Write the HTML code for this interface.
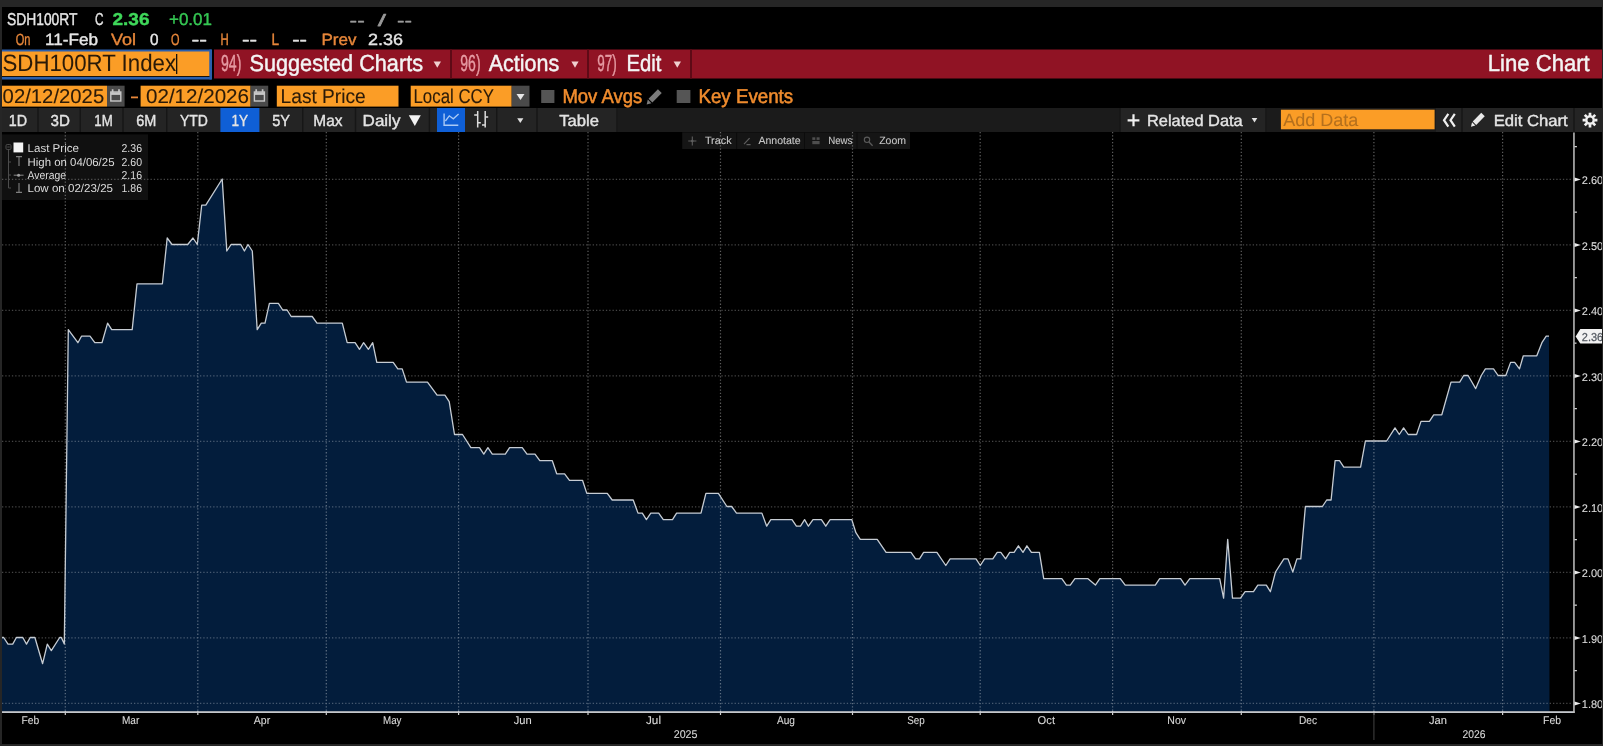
<!DOCTYPE html>
<html><head><meta charset="utf-8"><title>SDH100RT Index - Line Chart</title>
<style>html,body{margin:0;padding:0;background:#000;overflow:hidden}svg{display:block}text{font-family:"Liberation Sans",sans-serif;white-space:pre}</style>
</head><body>
<svg width="1603" height="746" viewBox="0 0 1603 746" text-rendering="geometricPrecision"><rect x="0" y="0" width="1603" height="746" fill="#000" />
<text x="7" y="25.4" font-family="Liberation Sans" font-size="17.14" font-weight="normal" fill="#e6e6e6" textLength="70.5" lengthAdjust="spacingAndGlyphs"  stroke="#e6e6e6" stroke-width="0.4" stroke-linejoin="round">SDH100RT</text>
<text x="95" y="25.4" font-family="Liberation Sans" font-size="17.14" font-weight="normal" fill="#e6e6e6" textLength="8.5" lengthAdjust="spacingAndGlyphs"  stroke="#e6e6e6" stroke-width="0.4" stroke-linejoin="round">C</text>
<text x="112.5" y="25.4" font-family="Liberation Sans" font-size="17.14" font-weight="bold" fill="#3fd85a" textLength="37.0" lengthAdjust="spacingAndGlyphs"  stroke="#3fd85a" stroke-width="0.4" stroke-linejoin="round">2.36</text>
<text x="169" y="25.4" font-family="Liberation Sans" font-size="17.14" font-weight="normal" fill="#35c653" textLength="43" lengthAdjust="spacingAndGlyphs"  stroke="#35c653" stroke-width="0.4" stroke-linejoin="round">+0.01</text>
<text x="349.6" y="25.5" font-family="Liberation Sans" font-size="16.57" font-weight="normal" fill="#9a9a9a" textLength="15.1" lengthAdjust="spacingAndGlyphs"  stroke="#9a9a9a" stroke-width="0.4" stroke-linejoin="round">--</text>
<text x="377.7" y="25.5" font-family="Liberation Sans" font-size="16.57" font-weight="normal" fill="#9a9a9a" textLength="8.3" lengthAdjust="spacingAndGlyphs"  stroke="#9a9a9a" stroke-width="0.4" stroke-linejoin="round">/</text>
<text x="397" y="25.5" font-family="Liberation Sans" font-size="16.57" font-weight="normal" fill="#9a9a9a" textLength="15" lengthAdjust="spacingAndGlyphs"  stroke="#9a9a9a" stroke-width="0.4" stroke-linejoin="round">--</text>
<text x="15.8" y="45.4" font-family="Liberation Sans" font-size="16.29" font-weight="normal" fill="#e8873a" textLength="14.7" lengthAdjust="spacingAndGlyphs"  stroke="#e8873a" stroke-width="0.4" stroke-linejoin="round">On</text>
<text x="45" y="45.4" font-family="Liberation Sans" font-size="16.29" font-weight="normal" fill="#e6e6e6" textLength="53" lengthAdjust="spacingAndGlyphs"  stroke="#e6e6e6" stroke-width="0.4" stroke-linejoin="round">11-Feb</text>
<text x="111" y="45.4" font-family="Liberation Sans" font-size="16.29" font-weight="normal" fill="#e8873a" textLength="25" lengthAdjust="spacingAndGlyphs"  stroke="#e8873a" stroke-width="0.4" stroke-linejoin="round">Vol</text>
<text x="150" y="45.4" font-family="Liberation Sans" font-size="16.29" font-weight="normal" fill="#e6e6e6" textLength="8.5" lengthAdjust="spacingAndGlyphs"  stroke="#e6e6e6" stroke-width="0.4" stroke-linejoin="round">0</text>
<text x="171" y="45.4" font-family="Liberation Sans" font-size="16.29" font-weight="normal" fill="#e8873a" textLength="8.5" lengthAdjust="spacingAndGlyphs"  stroke="#e8873a" stroke-width="0.4" stroke-linejoin="round">O</text>
<text x="191.5" y="45.4" font-family="Liberation Sans" font-size="16.29" font-weight="normal" fill="#e6e6e6" textLength="15.5" lengthAdjust="spacingAndGlyphs"  stroke="#e6e6e6" stroke-width="0.4" stroke-linejoin="round">--</text>
<text x="220.6" y="45.4" font-family="Liberation Sans" font-size="16.29" font-weight="normal" fill="#e8873a" textLength="8.2" lengthAdjust="spacingAndGlyphs"  stroke="#e8873a" stroke-width="0.4" stroke-linejoin="round">H</text>
<text x="241.9" y="45.4" font-family="Liberation Sans" font-size="16.29" font-weight="normal" fill="#e6e6e6" textLength="15.1" lengthAdjust="spacingAndGlyphs"  stroke="#e6e6e6" stroke-width="0.4" stroke-linejoin="round">--</text>
<text x="271.4" y="45.4" font-family="Liberation Sans" font-size="16.29" font-weight="normal" fill="#e8873a" textLength="7.6" lengthAdjust="spacingAndGlyphs"  stroke="#e8873a" stroke-width="0.4" stroke-linejoin="round">L</text>
<text x="292.2" y="45.4" font-family="Liberation Sans" font-size="16.29" font-weight="normal" fill="#e6e6e6" textLength="14.8" lengthAdjust="spacingAndGlyphs"  stroke="#e6e6e6" stroke-width="0.4" stroke-linejoin="round">--</text>
<text x="321.5" y="45.4" font-family="Liberation Sans" font-size="16.29" font-weight="normal" fill="#e8873a" textLength="35.0" lengthAdjust="spacingAndGlyphs"  stroke="#e8873a" stroke-width="0.4" stroke-linejoin="round">Prev</text>
<text x="368" y="45.4" font-family="Liberation Sans" font-size="16.29" font-weight="normal" fill="#e6e6e6" textLength="35" lengthAdjust="spacingAndGlyphs"  stroke="#e6e6e6" stroke-width="0.4" stroke-linejoin="round">2.36</text>
<rect x="214" y="49.5" width="1388" height="29" fill="#901324" />
<rect x="450" y="49.5" width="2" height="29" fill="#5e0a16" />
<rect x="587" y="49.5" width="2" height="29" fill="#5e0a16" />
<rect x="690" y="49.5" width="2" height="29" fill="#5e0a16" />
<rect x="2" y="49.5" width="210" height="30" fill="#2a5fae" />
<rect x="2" y="51.5" width="207.5" height="24.5" fill="#fb9d26" />
<rect x="209.5" y="49.5" width="2" height="30" fill="#2a5fae" />
<rect x="2" y="76" width="207.5" height="1" fill="#1a1208" />
<text x="2.5" y="71.3" font-family="Liberation Sans" font-size="23.71" font-weight="normal" fill="#2a1a08" textLength="173.5" lengthAdjust="spacingAndGlyphs"  stroke="#2a1a08" stroke-width="0.05" stroke-linejoin="round">SDH100RT Index</text>
<rect x="176" y="54" width="1.3" height="20" fill="#1a1208" />
<text x="221" y="71" font-family="Liberation Sans" font-size="23.14" font-weight="normal" fill="#e59aa2" textLength="20.4" lengthAdjust="spacingAndGlyphs"  stroke="#e59aa2" stroke-width="0.45" stroke-linejoin="round">94)</text>
<text x="249.5" y="71" font-family="Liberation Sans" font-size="23.14" font-weight="normal" fill="#f4f4f4" textLength="173.5" lengthAdjust="spacingAndGlyphs"  stroke="#f4f4f4" stroke-width="0.45" stroke-linejoin="round">Suggested Charts</text>
<text x="460.3" y="71" font-family="Liberation Sans" font-size="23.14" font-weight="normal" fill="#e59aa2" textLength="20.3" lengthAdjust="spacingAndGlyphs"  stroke="#e59aa2" stroke-width="0.45" stroke-linejoin="round">96)</text>
<text x="488.7" y="71" font-family="Liberation Sans" font-size="23.14" font-weight="normal" fill="#f4f4f4" textLength="70.5" lengthAdjust="spacingAndGlyphs"  stroke="#f4f4f4" stroke-width="0.45" stroke-linejoin="round">Actions</text>
<text x="597.3" y="71" font-family="Liberation Sans" font-size="23.14" font-weight="normal" fill="#e59aa2" textLength="19.5" lengthAdjust="spacingAndGlyphs"  stroke="#e59aa2" stroke-width="0.45" stroke-linejoin="round">97)</text>
<text x="626.5" y="71" font-family="Liberation Sans" font-size="23.14" font-weight="normal" fill="#f4f4f4" textLength="34.9" lengthAdjust="spacingAndGlyphs"  stroke="#f4f4f4" stroke-width="0.45" stroke-linejoin="round">Edit</text>
<path d="M433.6 61.5H441L437.3 67.7Z" fill="#f0d0d0"/>
<path d="M571.4 61.5H578.6L575.0 67.7Z" fill="#f0d0d0"/>
<path d="M673.6 61.5H681L677.3 67.7Z" fill="#f0d0d0"/>
<text x="1487.8" y="70.6" font-family="Liberation Sans" font-size="23.14" font-weight="normal" fill="#f4f4f4" textLength="101.9" lengthAdjust="spacingAndGlyphs"  stroke="#f4f4f4" stroke-width="0.45" stroke-linejoin="round">Line Chart</text>
<rect x="2" y="85.7" width="105" height="20.9" fill="#fb9d26" />
<rect x="107" y="85.7" width="17.6" height="20.9" fill="#4a4a4a" />
<rect x="140.6" y="85.7" width="110" height="20.9" fill="#fb9d26" />
<rect x="250.6" y="85.7" width="17.6" height="20.9" fill="#4a4a4a" />
<rect x="276.8" y="85.7" width="121.7" height="20.9" fill="#fb9d26" />
<rect x="410.7" y="85.7" width="101" height="20.9" fill="#fb9d26" />
<rect x="511.7" y="85.7" width="17.8" height="20.9" fill="#4a4a4a" />
<text x="2.6" y="103" font-family="Liberation Sans" font-size="20.0" font-weight="normal" fill="#2a1a08" textLength="101.6" lengthAdjust="spacingAndGlyphs"  stroke="#2a1a08" stroke-width="0.1" stroke-linejoin="round">02/12/2025</text>
<text x="146" y="103" font-family="Liberation Sans" font-size="20.0" font-weight="normal" fill="#2a1a08" textLength="103" lengthAdjust="spacingAndGlyphs"  stroke="#2a1a08" stroke-width="0.1" stroke-linejoin="round">02/12/2026</text>
<rect x="131" y="96.5" width="7" height="1.8" fill="#e8873a" />
<text x="280.6" y="103" font-family="Liberation Sans" font-size="20.0" font-weight="normal" fill="#2a1a08" textLength="85.1" lengthAdjust="spacingAndGlyphs"  stroke="#2a1a08" stroke-width="0.1" stroke-linejoin="round">Last Price</text>
<text x="413.5" y="103" font-family="Liberation Sans" font-size="20.0" font-weight="normal" fill="#2a1a08" textLength="80.5" lengthAdjust="spacingAndGlyphs"  stroke="#2a1a08" stroke-width="0.1" stroke-linejoin="round">Local CCY</text>
<path d="M516.5 94H524.5L520.5 100Z" fill="#e8e8e8"/>
<g stroke="#c8c8c8" fill="none" stroke-width="1.4"><rect x="110.8" y="92" width="10" height="9"/><path d="M110.8 93.6H120.8" stroke-width="2.6"/><path d="M112.6 89.3V92.5M119.0 89.3V92.5" stroke-width="1.7"/></g>
<g stroke="#c8c8c8" fill="none" stroke-width="1.4"><rect x="254.39999999999998" y="92" width="10" height="9"/><path d="M254.39999999999998 93.6H264.4" stroke-width="2.6"/><path d="M256.2 89.3V92.5M262.59999999999997 89.3V92.5" stroke-width="1.7"/></g>
<rect x="541.2" y="90" width="13.2" height="13" fill="#555" />
<rect x="676.7" y="90" width="13.7" height="13" fill="#555" />
<text x="562.4" y="103" font-family="Liberation Sans" font-size="20.0" font-weight="normal" fill="#f08c2e" textLength="79.9" lengthAdjust="spacingAndGlyphs"  stroke="#f08c2e" stroke-width="0.55" stroke-linejoin="round">Mov Avgs</text>
<text x="698.4" y="103" font-family="Liberation Sans" font-size="20.0" font-weight="normal" fill="#f08c2e" textLength="94.8" lengthAdjust="spacingAndGlyphs"  stroke="#f08c2e" stroke-width="0.55" stroke-linejoin="round">Key Events</text>
<g transform="translate(646,88) scale(1.0625)" fill="#7c7c7c"><path d="M11.2 1.2 L14.8 4.8 L6 13.6 L2.4 10 Z"/><path d="M1.7 10.9 L5.1 14.3 L0.6 15.6 Z"/></g>
<rect x="2" y="108" width="1600" height="24" fill="#1b1b1b" />
<rect x="2" y="108" width="615.6" height="24" fill="#242424" />
<rect x="1120" y="108" width="146.5" height="24" fill="#242424" />
<rect x="1436" y="108" width="166" height="24" fill="#242424" />
<rect x="37.3" y="108" width="1.4" height="24" fill="#161616" />
<rect x="79.6" y="108" width="1.4" height="24" fill="#161616" />
<rect x="122.3" y="108" width="1.4" height="24" fill="#161616" />
<rect x="166.10000000000002" y="108" width="1.4" height="24" fill="#161616" />
<rect x="302.0" y="108" width="1.4" height="24" fill="#161616" />
<rect x="354.8" y="108" width="1.4" height="24" fill="#161616" />
<rect x="428.7" y="108" width="1.4" height="24" fill="#161616" />
<rect x="496.1" y="108" width="1.4" height="24" fill="#161616" />
<rect x="536.3" y="108" width="1.4" height="24" fill="#161616" />
<rect x="616.3" y="108" width="1.4" height="24" fill="#161616" />
<rect x="1119.3" y="108" width="1.4" height="24" fill="#161616" />
<rect x="1265.3" y="108" width="1.4" height="24" fill="#161616" />
<rect x="1461.3" y="108" width="1.4" height="24" fill="#161616" />
<rect x="1573.3" y="108" width="1.4" height="24" fill="#161616" />
<rect x="220.4" y="108" width="39" height="24" fill="#0f5fd6" />
<rect x="437" y="108" width="28" height="24" fill="#0f5fd6" />
<text x="8.7" y="125.7" font-family="Liberation Sans" font-size="16.0" font-weight="normal" fill="#e4e4e4" textLength="18.3" lengthAdjust="spacingAndGlyphs"  stroke="#e4e4e4" stroke-width="0.4" stroke-linejoin="round">1D</text>
<text x="50.6" y="125.7" font-family="Liberation Sans" font-size="16.0" font-weight="normal" fill="#e4e4e4" textLength="19.3" lengthAdjust="spacingAndGlyphs"  stroke="#e4e4e4" stroke-width="0.4" stroke-linejoin="round">3D</text>
<text x="94.3" y="125.7" font-family="Liberation Sans" font-size="16.0" font-weight="normal" fill="#e4e4e4" textLength="18.4" lengthAdjust="spacingAndGlyphs"  stroke="#e4e4e4" stroke-width="0.4" stroke-linejoin="round">1M</text>
<text x="136.2" y="125.7" font-family="Liberation Sans" font-size="16.0" font-weight="normal" fill="#e4e4e4" textLength="20.1" lengthAdjust="spacingAndGlyphs"  stroke="#e4e4e4" stroke-width="0.4" stroke-linejoin="round">6M</text>
<text x="180" y="125.7" font-family="Liberation Sans" font-size="16.0" font-weight="normal" fill="#e4e4e4" textLength="27.9" lengthAdjust="spacingAndGlyphs"  stroke="#e4e4e4" stroke-width="0.4" stroke-linejoin="round">YTD</text>
<text x="231.4" y="125.7" font-family="Liberation Sans" font-size="16.0" font-weight="normal" fill="#e4e4e4" textLength="16.6" lengthAdjust="spacingAndGlyphs"  stroke="#e4e4e4" stroke-width="0.4" stroke-linejoin="round">1Y</text>
<text x="272.2" y="125.7" font-family="Liberation Sans" font-size="16.0" font-weight="normal" fill="#e4e4e4" textLength="17.8" lengthAdjust="spacingAndGlyphs"  stroke="#e4e4e4" stroke-width="0.4" stroke-linejoin="round">5Y</text>
<text x="313.3" y="125.7" font-family="Liberation Sans" font-size="16.0" font-weight="normal" fill="#e4e4e4" textLength="29.1" lengthAdjust="spacingAndGlyphs"  stroke="#e4e4e4" stroke-width="0.4" stroke-linejoin="round">Max</text>
<text x="362.6" y="125.7" font-family="Liberation Sans" font-size="16.0" font-weight="normal" fill="#e4e4e4" textLength="37.8" lengthAdjust="spacingAndGlyphs"  stroke="#e4e4e4" stroke-width="0.4" stroke-linejoin="round">Daily</text>
<text x="559.2" y="125.7" font-family="Liberation Sans" font-size="16.0" font-weight="normal" fill="#e4e4e4" textLength="39.7" lengthAdjust="spacingAndGlyphs"  stroke="#e4e4e4" stroke-width="0.4" stroke-linejoin="round">Table</text>
<text x="1147" y="125.7" font-family="Liberation Sans" font-size="16.0" font-weight="normal" fill="#e4e4e4" textLength="95.7" lengthAdjust="spacingAndGlyphs"  stroke="#e4e4e4" stroke-width="0.4" stroke-linejoin="round">Related Data</text>
<text x="1493.7" y="125.7" font-family="Liberation Sans" font-size="16.0" font-weight="normal" fill="#e4e4e4" textLength="74.0" lengthAdjust="spacingAndGlyphs"  stroke="#e4e4e4" stroke-width="0.4" stroke-linejoin="round">Edit Chart</text>
<path d="M408.8 115.3H420.8L414.8 126Z" fill="#f2f2f2"/>
<path d="M517.2 118.2H523.4L520.3 123Z" fill="#e0e0e0"/>
<path d="M1251.7 118H1257.3L1254.5 122.5Z" fill="#e0e0e0"/>
<path d="M444.1 113.4V125.2H458.3" stroke="#a9c9f5" stroke-width="1.4" fill="none"/><path d="M445.4 121L449.3 115.8L453.3 118.8L458.6 113.9" stroke="#a9c9f5" stroke-width="1.3" fill="none"/>
<path d="M477.7 111V127.4M485.2 111V127.4M474.2 115H477.7M477.7 122.8H480.8M482 125H485.2M485.2 117.1H488.2" stroke="#dcdcdc" stroke-width="1.5" fill="none"/>
<path d="M1127.6 120.3H1139.4M1133.5 114.3V126.3" stroke="#f0f0f0" stroke-width="2.2"/>
<rect x="1280.9" y="109.7" width="153.7" height="19.6" fill="#fb9d26" />
<text x="1283.3" y="125.8" font-family="Liberation Sans" font-size="17.86" font-weight="normal" fill="#b4701e" textLength="75.1" lengthAdjust="spacingAndGlyphs"  stroke="#b4701e" stroke-width="0.05" stroke-linejoin="round">Add Data</text>
<path d="M1448.3 113.8L1444 120.2L1448.3 126.6M1454.8 113.8L1450.5 120.2L1454.8 126.6" stroke="#f0f0f0" stroke-width="2.2" fill="none"/>
<g transform="translate(1470.4,111.7) scale(0.96875)" fill="#eaeaea"><path d="M11.2 1.2 L14.8 4.8 L6 13.6 L2.4 10 Z"/><path d="M1.7 10.9 L5.1 14.3 L0.6 15.6 Z"/></g>
<path d="M1594.20 120.10L1597.40 120.10M1592.97 123.07L1595.23 125.33M1590.00 124.30L1590.00 127.50M1587.03 123.07L1584.77 125.33M1585.80 120.10L1582.60 120.10M1587.03 117.13L1584.77 114.87M1590.00 115.90L1590.00 112.70M1592.97 117.13L1595.23 114.87" stroke="#f0f0f0" stroke-width="2.7"/>
<circle cx="1590" cy="120.1" r="3.7" fill="none" stroke="#f0f0f0" stroke-width="2.4"/>
<polygon points="2,711.5 2.0,637.5 3.7,637.5 8.0,644.1 12.7,644.1 16.4,637.5 22.8,637.5 26.5,644.1 30.2,637.5 34.9,637.5 42.6,663.7 47.3,644.1 51.3,650.6 59.7,637.5 61.3,637.5 64.3,644.1 68.3,329.6 77.9,342.7 81.5,336.2 90.0,336.2 94.8,342.7 102.0,342.7 107.6,323.1 111.7,329.6 132.2,329.6 137.0,283.8 162.4,283.8 167.2,238.0 172.0,244.5 187.7,244.5 193.0,238.0 197.3,244.5 201.7,205.2 205.8,205.2 222.2,179.0 226.8,251.0 231.1,244.5 240.8,244.5 244.4,251.0 248.0,244.5 252.3,251.0 257.2,329.6 261.3,323.1 265.0,323.1 269.4,303.4 278.4,303.4 282.7,310.0 287.1,310.0 291.2,316.5 312.2,316.5 317.0,323.1 342.3,323.1 347.2,342.7 355.1,342.7 359.5,349.3 363.6,342.7 368.4,349.3 372.7,342.7 376.8,362.4 393.2,362.4 397.8,368.9 402.2,368.9 406.5,382.1 427.5,382.1 437.1,395.2 444.9,395.2 449.2,401.7 454.5,434.5 462.5,434.5 470.9,447.6 479.5,447.6 483.8,454.1 487.9,447.6 492.3,454.1 505.3,454.1 509.6,447.6 522.2,447.6 527.0,454.1 535.0,454.1 539.8,460.7 552.3,460.7 556.7,473.8 564.6,473.8 569.5,480.3 582.5,480.3 586.8,493.4 607.3,493.4 612.2,500.0 633.2,500.0 638.0,513.1 642.3,513.1 646.4,519.6 650.8,513.1 658.7,513.1 663.3,519.6 672.5,519.6 676.6,513.1 701.0,513.1 705.9,493.4 718.4,493.4 726.9,506.5 731.7,506.5 736.5,513.1 761.9,513.1 766.7,526.2 770.8,519.6 792.0,519.6 796.4,526.2 800.5,526.2 804.6,519.6 808.4,526.2 813.0,519.6 821.4,519.6 825.8,526.2 830.1,519.6 851.8,519.6 855.9,532.7 860.3,539.3 877.2,539.3 886.1,552.4 911.0,552.4 915.6,558.9 919.5,558.9 923.6,552.4 936.9,552.4 945.8,565.5 950.1,558.9 976.0,558.9 980.3,565.5 984.6,558.9 992.8,558.9 997.2,552.4 1000.8,552.4 1005.6,558.9 1009.7,552.4 1014.1,552.4 1018.4,545.8 1023.0,552.4 1026.9,545.8 1031.4,552.4 1039.4,552.4 1043.7,578.6 1061.8,578.6 1066.4,585.1 1070.3,585.1 1074.9,578.6 1087.7,578.6 1095.4,585.1 1099.8,578.6 1120.3,578.6 1125.2,585.1 1155.3,585.1 1159.7,578.6 1180.6,578.6 1185.0,585.1 1189.8,578.6 1219.7,578.6 1223.6,598.2 1227.7,539.3 1232.5,598.2 1240.5,598.2 1245.1,591.7 1253.5,591.7 1257.8,585.1 1266.3,585.1 1270.4,591.7 1275.5,572.0 1283.9,558.9 1288.0,558.9 1292.8,572.0 1296.9,558.9 1300.8,558.9 1305.4,506.5 1322.4,506.5 1326.7,500.0 1331.1,500.0 1335.1,460.7 1339.5,460.7 1343.8,467.2 1360.6,467.2 1365.4,441.0 1386.6,441.0 1395.0,427.9 1399.3,434.5 1403.6,427.9 1408.2,434.5 1416.6,434.5 1421.0,421.4 1429.4,421.4 1433.7,414.8 1441.8,414.8 1451.0,382.1 1459.7,382.1 1463.7,375.5 1468.1,375.5 1475.7,388.6 1481.3,375.5 1485.4,368.9 1493.5,368.9 1498.1,375.5 1505.8,375.5 1510.6,362.4 1514.7,362.4 1519.5,368.9 1523.3,355.8 1536.8,355.8 1541.9,342.7 1546.2,336.2 1549.0,336.2 1549.5,711.5" fill="#031d3c"/>
<rect x="2" y="134.4" width="146" height="65.6" fill="#111111" opacity="0.93"/>
<rect x="682.2" y="132.3" width="227.8" height="16.7" fill="#151515" />
<rect x="736.1" y="132.3" width="1" height="16.7" fill="#0c0c0c" />
<rect x="804.0" y="132.3" width="1" height="16.7" fill="#0c0c0c" />
<rect x="856.5" y="132.3" width="1" height="16.7" fill="#0c0c0c" />
<text x="704.9" y="144.4" font-family="Liberation Sans" font-size="10.57" font-weight="normal" fill="#c6c6c6" textLength="26.7" lengthAdjust="spacingAndGlyphs"  stroke="#c6c6c6" stroke-width="0.1" stroke-linejoin="round">Track</text>
<text x="758.4" y="144.4" font-family="Liberation Sans" font-size="10.57" font-weight="normal" fill="#c6c6c6" textLength="42.2" lengthAdjust="spacingAndGlyphs"  stroke="#c6c6c6" stroke-width="0.1" stroke-linejoin="round">Annotate</text>
<text x="828.2" y="144.4" font-family="Liberation Sans" font-size="10.57" font-weight="normal" fill="#c6c6c6" textLength="24.3" lengthAdjust="spacingAndGlyphs"  stroke="#c6c6c6" stroke-width="0.1" stroke-linejoin="round">News</text>
<text x="879.2" y="144.4" font-family="Liberation Sans" font-size="10.57" font-weight="normal" fill="#c6c6c6" textLength="26.8" lengthAdjust="spacingAndGlyphs"  stroke="#c6c6c6" stroke-width="0.1" stroke-linejoin="round">Zoom</text>
<path d="M692.3 136.6V145.4M688.2 141H696.4" stroke="#5e5e5e" stroke-width="1.1"/><circle cx="692.3" cy="141" r="1.3" fill="#5e5e5e"/>
<path d="M744 144.2L749.6 138.2M746.5 144.6H750.6" stroke="#5e5e5e" stroke-width="1.2"/>
<g fill="#4e4e4e"><rect x="812.3" y="137.3" width="3" height="2.6"/><rect x="816.6" y="137.3" width="3" height="2.6"/><rect x="812.3" y="141" width="7.3" height="3.2"/></g>
<circle cx="867" cy="139.8" r="2.7" fill="none" stroke="#5a5a5a" stroke-width="1.1"/><path d="M869 142L872.6 145.8" stroke="#5a5a5a" stroke-width="1.3"/>
<g style="mix-blend-mode:screen">
<path d="M2 179.4H1572" stroke="#454545" stroke-width="1.2" stroke-dasharray="1.3 2"/>
<path d="M2 244.9H1572" stroke="#454545" stroke-width="1.2" stroke-dasharray="1.3 2"/>
<path d="M2 310.4H1572" stroke="#454545" stroke-width="1.2" stroke-dasharray="1.3 2"/>
<path d="M2 375.9H1572" stroke="#454545" stroke-width="1.2" stroke-dasharray="1.3 2"/>
<path d="M2 441.4H1572" stroke="#454545" stroke-width="1.2" stroke-dasharray="1.3 2"/>
<path d="M2 506.9H1572" stroke="#454545" stroke-width="1.2" stroke-dasharray="1.3 2"/>
<path d="M2 572.4H1572" stroke="#454545" stroke-width="1.2" stroke-dasharray="1.3 2"/>
<path d="M2 637.9H1572" stroke="#454545" stroke-width="1.2" stroke-dasharray="1.3 2"/>
<path d="M2 703.4H1572" stroke="#454545" stroke-width="1.2" stroke-dasharray="1.3 2"/>
<path d="M65.3 132V711" stroke="#5c5c5c" stroke-width="1.2" stroke-dasharray="1.3 2"/>
<path d="M197.8 132V711" stroke="#5c5c5c" stroke-width="1.2" stroke-dasharray="1.3 2"/>
<path d="M326.3 132V711" stroke="#5c5c5c" stroke-width="1.2" stroke-dasharray="1.3 2"/>
<path d="M458.6 132V711" stroke="#5c5c5c" stroke-width="1.2" stroke-dasharray="1.3 2"/>
<path d="M588 132V711" stroke="#5c5c5c" stroke-width="1.2" stroke-dasharray="1.3 2"/>
<path d="M720.5 132V711" stroke="#5c5c5c" stroke-width="1.2" stroke-dasharray="1.3 2"/>
<path d="M852.5 132V711" stroke="#5c5c5c" stroke-width="1.2" stroke-dasharray="1.3 2"/>
<path d="M980.2 132V711" stroke="#5c5c5c" stroke-width="1.2" stroke-dasharray="1.3 2"/>
<path d="M1112.6 132V711" stroke="#5c5c5c" stroke-width="1.2" stroke-dasharray="1.3 2"/>
<path d="M1241.3 132V711" stroke="#5c5c5c" stroke-width="1.2" stroke-dasharray="1.3 2"/>
<path d="M1373.9 132V711" stroke="#5c5c5c" stroke-width="1.2" stroke-dasharray="1.3 2"/>
<path d="M1502.6 132V711" stroke="#5c5c5c" stroke-width="1.2" stroke-dasharray="1.3 2"/>
</g>
<path d="M65.3 711V715" stroke="#cfcfcf" stroke-width="1.2"/>
<path d="M197.8 711V715" stroke="#cfcfcf" stroke-width="1.2"/>
<path d="M326.3 711V715" stroke="#cfcfcf" stroke-width="1.2"/>
<path d="M458.6 711V715" stroke="#cfcfcf" stroke-width="1.2"/>
<path d="M588 711V715" stroke="#cfcfcf" stroke-width="1.2"/>
<path d="M720.5 711V715" stroke="#cfcfcf" stroke-width="1.2"/>
<path d="M852.5 711V715" stroke="#cfcfcf" stroke-width="1.2"/>
<path d="M980.2 711V715" stroke="#cfcfcf" stroke-width="1.2"/>
<path d="M1112.6 711V715" stroke="#cfcfcf" stroke-width="1.2"/>
<path d="M1241.3 711V715" stroke="#cfcfcf" stroke-width="1.2"/>
<path d="M1373.9 711V715" stroke="#cfcfcf" stroke-width="1.2"/>
<path d="M1502.6 711V715" stroke="#cfcfcf" stroke-width="1.2"/>
<polyline points="2.0,637.5 3.7,637.5 8.0,644.1 12.7,644.1 16.4,637.5 22.8,637.5 26.5,644.1 30.2,637.5 34.9,637.5 42.6,663.7 47.3,644.1 51.3,650.6 59.7,637.5 61.3,637.5 64.3,644.1 68.3,329.6 77.9,342.7 81.5,336.2 90.0,336.2 94.8,342.7 102.0,342.7 107.6,323.1 111.7,329.6 132.2,329.6 137.0,283.8 162.4,283.8 167.2,238.0 172.0,244.5 187.7,244.5 193.0,238.0 197.3,244.5 201.7,205.2 205.8,205.2 222.2,179.0 226.8,251.0 231.1,244.5 240.8,244.5 244.4,251.0 248.0,244.5 252.3,251.0 257.2,329.6 261.3,323.1 265.0,323.1 269.4,303.4 278.4,303.4 282.7,310.0 287.1,310.0 291.2,316.5 312.2,316.5 317.0,323.1 342.3,323.1 347.2,342.7 355.1,342.7 359.5,349.3 363.6,342.7 368.4,349.3 372.7,342.7 376.8,362.4 393.2,362.4 397.8,368.9 402.2,368.9 406.5,382.1 427.5,382.1 437.1,395.2 444.9,395.2 449.2,401.7 454.5,434.5 462.5,434.5 470.9,447.6 479.5,447.6 483.8,454.1 487.9,447.6 492.3,454.1 505.3,454.1 509.6,447.6 522.2,447.6 527.0,454.1 535.0,454.1 539.8,460.7 552.3,460.7 556.7,473.8 564.6,473.8 569.5,480.3 582.5,480.3 586.8,493.4 607.3,493.4 612.2,500.0 633.2,500.0 638.0,513.1 642.3,513.1 646.4,519.6 650.8,513.1 658.7,513.1 663.3,519.6 672.5,519.6 676.6,513.1 701.0,513.1 705.9,493.4 718.4,493.4 726.9,506.5 731.7,506.5 736.5,513.1 761.9,513.1 766.7,526.2 770.8,519.6 792.0,519.6 796.4,526.2 800.5,526.2 804.6,519.6 808.4,526.2 813.0,519.6 821.4,519.6 825.8,526.2 830.1,519.6 851.8,519.6 855.9,532.7 860.3,539.3 877.2,539.3 886.1,552.4 911.0,552.4 915.6,558.9 919.5,558.9 923.6,552.4 936.9,552.4 945.8,565.5 950.1,558.9 976.0,558.9 980.3,565.5 984.6,558.9 992.8,558.9 997.2,552.4 1000.8,552.4 1005.6,558.9 1009.7,552.4 1014.1,552.4 1018.4,545.8 1023.0,552.4 1026.9,545.8 1031.4,552.4 1039.4,552.4 1043.7,578.6 1061.8,578.6 1066.4,585.1 1070.3,585.1 1074.9,578.6 1087.7,578.6 1095.4,585.1 1099.8,578.6 1120.3,578.6 1125.2,585.1 1155.3,585.1 1159.7,578.6 1180.6,578.6 1185.0,585.1 1189.8,578.6 1219.7,578.6 1223.6,598.2 1227.7,539.3 1232.5,598.2 1240.5,598.2 1245.1,591.7 1253.5,591.7 1257.8,585.1 1266.3,585.1 1270.4,591.7 1275.5,572.0 1283.9,558.9 1288.0,558.9 1292.8,572.0 1296.9,558.9 1300.8,558.9 1305.4,506.5 1322.4,506.5 1326.7,500.0 1331.1,500.0 1335.1,460.7 1339.5,460.7 1343.8,467.2 1360.6,467.2 1365.4,441.0 1386.6,441.0 1395.0,427.9 1399.3,434.5 1403.6,427.9 1408.2,434.5 1416.6,434.5 1421.0,421.4 1429.4,421.4 1433.7,414.8 1441.8,414.8 1451.0,382.1 1459.7,382.1 1463.7,375.5 1468.1,375.5 1475.7,388.6 1481.3,375.5 1485.4,368.9 1493.5,368.9 1498.1,375.5 1505.8,375.5 1510.6,362.4 1514.7,362.4 1519.5,368.9 1523.3,355.8 1536.8,355.8 1541.9,342.7 1546.2,336.2 1549.0,336.2" fill="none" stroke="#c6ccd3" stroke-width="1.3" stroke-linejoin="round"/>
<rect x="2" y="711.2" width="1572.6" height="1.8" fill="#c4c7cc" />
<rect x="1573.2" y="132.5" width="1.5" height="580.5" fill="#c0c0c0" />
<path d="M1373.9 713V740" stroke="#343434" stroke-width="1.3"/>
<path d="M1574.5 177.4L1580.8 179.4L1574.5 181.4Z" fill="#ececec"/>
<text x="1581.8" y="184.20000000000002" font-family="Liberation Sans" font-size="11.14" font-weight="normal" fill="#dcdcdc" textLength="21.4" lengthAdjust="spacingAndGlyphs"  stroke="#dcdcdc" stroke-width="0.1" stroke-linejoin="round">2.60</text>
<path d="M1574.5 242.90000000000006L1580.8 244.90000000000006L1574.5 246.90000000000006Z" fill="#ececec"/>
<text x="1581.8" y="249.70000000000007" font-family="Liberation Sans" font-size="11.14" font-weight="normal" fill="#dcdcdc" textLength="21.4" lengthAdjust="spacingAndGlyphs"  stroke="#dcdcdc" stroke-width="0.1" stroke-linejoin="round">2.50</text>
<path d="M1574.5 308.4000000000001L1580.8 310.4000000000001L1574.5 312.4000000000001Z" fill="#ececec"/>
<text x="1581.8" y="315.2000000000001" font-family="Liberation Sans" font-size="11.14" font-weight="normal" fill="#dcdcdc" textLength="21.4" lengthAdjust="spacingAndGlyphs"  stroke="#dcdcdc" stroke-width="0.1" stroke-linejoin="round">2.40</text>
<path d="M1574.5 373.90000000000015L1580.8 375.90000000000015L1574.5 377.90000000000015Z" fill="#ececec"/>
<text x="1581.8" y="380.70000000000016" font-family="Liberation Sans" font-size="11.14" font-weight="normal" fill="#dcdcdc" textLength="21.4" lengthAdjust="spacingAndGlyphs"  stroke="#dcdcdc" stroke-width="0.1" stroke-linejoin="round">2.30</text>
<path d="M1574.5 439.39999999999986L1580.8 441.39999999999986L1574.5 443.39999999999986Z" fill="#ececec"/>
<text x="1581.8" y="446.1999999999999" font-family="Liberation Sans" font-size="11.14" font-weight="normal" fill="#dcdcdc" textLength="21.4" lengthAdjust="spacingAndGlyphs"  stroke="#dcdcdc" stroke-width="0.1" stroke-linejoin="round">2.20</text>
<path d="M1574.5 504.9L1580.8 506.9L1574.5 508.9Z" fill="#ececec"/>
<text x="1581.8" y="511.7" font-family="Liberation Sans" font-size="11.14" font-weight="normal" fill="#dcdcdc" textLength="21.4" lengthAdjust="spacingAndGlyphs"  stroke="#dcdcdc" stroke-width="0.1" stroke-linejoin="round">2.10</text>
<path d="M1574.5 570.4L1580.8 572.4L1574.5 574.4Z" fill="#ececec"/>
<text x="1581.8" y="577.1999999999999" font-family="Liberation Sans" font-size="11.14" font-weight="normal" fill="#dcdcdc" textLength="21.4" lengthAdjust="spacingAndGlyphs"  stroke="#dcdcdc" stroke-width="0.1" stroke-linejoin="round">2.00</text>
<path d="M1574.5 635.9000000000001L1580.8 637.9000000000001L1574.5 639.9000000000001Z" fill="#ececec"/>
<text x="1581.8" y="642.7" font-family="Liberation Sans" font-size="11.14" font-weight="normal" fill="#dcdcdc" textLength="21.4" lengthAdjust="spacingAndGlyphs"  stroke="#dcdcdc" stroke-width="0.1" stroke-linejoin="round">1.90</text>
<path d="M1574.5 701.4L1580.8 703.4L1574.5 705.4Z" fill="#ececec"/>
<text x="1581.8" y="708.1999999999999" font-family="Liberation Sans" font-size="11.14" font-weight="normal" fill="#dcdcdc" textLength="21.4" lengthAdjust="spacingAndGlyphs"  stroke="#dcdcdc" stroke-width="0.1" stroke-linejoin="round">1.80</text>
<path d="M1574.5 146.65000000000012H1576.9" stroke="#ddd" stroke-width="1.2"/>
<path d="M1574.5 212.15000000000018H1576.9" stroke="#ddd" stroke-width="1.2"/>
<path d="M1574.5 277.64999999999986H1576.9" stroke="#ddd" stroke-width="1.2"/>
<path d="M1574.5 343.1499999999999H1576.5" stroke="#ddd" stroke-width="1.2"/>
<path d="M1574.5 408.65000000000003H1576.9" stroke="#ddd" stroke-width="1.2"/>
<path d="M1574.5 474.1500000000001H1576.9" stroke="#ddd" stroke-width="1.2"/>
<path d="M1574.5 539.6500000000001H1576.9" stroke="#ddd" stroke-width="1.2"/>
<path d="M1574.5 605.15H1576.9" stroke="#ddd" stroke-width="1.2"/>
<path d="M1574.5 670.65H1576.9" stroke="#ddd" stroke-width="1.2"/>
<path d="M1575.6 336.4L1580.3 329.1H1602V343.6H1580.3Z" fill="#f2f2f2"/>
<text x="1581.8" y="341.2" font-family="Liberation Sans" font-size="11.57" font-weight="normal" fill="#50565e" textLength="21.4" lengthAdjust="spacingAndGlyphs"  stroke="#50565e" stroke-width="0.25" stroke-linejoin="round">2.36</text>
<text x="21.5" y="724.2" font-family="Liberation Sans" font-size="11.29" font-weight="normal" fill="#d8d8d8" textLength="17.8" lengthAdjust="spacingAndGlyphs"  stroke="#d8d8d8" stroke-width="0.1" stroke-linejoin="round">Feb</text>
<text x="122" y="724.2" font-family="Liberation Sans" font-size="11.29" font-weight="normal" fill="#d8d8d8" textLength="17.3" lengthAdjust="spacingAndGlyphs"  stroke="#d8d8d8" stroke-width="0.1" stroke-linejoin="round">Mar</text>
<text x="253.8" y="724.2" font-family="Liberation Sans" font-size="11.29" font-weight="normal" fill="#d8d8d8" textLength="16.4" lengthAdjust="spacingAndGlyphs"  stroke="#d8d8d8" stroke-width="0.1" stroke-linejoin="round">Apr</text>
<text x="383" y="724.2" font-family="Liberation Sans" font-size="11.29" font-weight="normal" fill="#d8d8d8" textLength="18.5" lengthAdjust="spacingAndGlyphs"  stroke="#d8d8d8" stroke-width="0.1" stroke-linejoin="round">May</text>
<text x="513.7" y="724.2" font-family="Liberation Sans" font-size="11.29" font-weight="normal" fill="#d8d8d8" textLength="18.0" lengthAdjust="spacingAndGlyphs"  stroke="#d8d8d8" stroke-width="0.1" stroke-linejoin="round">Jun</text>
<text x="646" y="724.2" font-family="Liberation Sans" font-size="11.29" font-weight="normal" fill="#d8d8d8" textLength="15" lengthAdjust="spacingAndGlyphs"  stroke="#d8d8d8" stroke-width="0.1" stroke-linejoin="round">Jul</text>
<text x="777" y="724.2" font-family="Liberation Sans" font-size="11.29" font-weight="normal" fill="#d8d8d8" textLength="18" lengthAdjust="spacingAndGlyphs"  stroke="#d8d8d8" stroke-width="0.1" stroke-linejoin="round">Aug</text>
<text x="907.3" y="724.2" font-family="Liberation Sans" font-size="11.29" font-weight="normal" fill="#d8d8d8" textLength="17.5" lengthAdjust="spacingAndGlyphs"  stroke="#d8d8d8" stroke-width="0.1" stroke-linejoin="round">Sep</text>
<text x="1037.6" y="724.2" font-family="Liberation Sans" font-size="11.29" font-weight="normal" fill="#d8d8d8" textLength="17.4" lengthAdjust="spacingAndGlyphs"  stroke="#d8d8d8" stroke-width="0.1" stroke-linejoin="round">Oct</text>
<text x="1167.3" y="724.2" font-family="Liberation Sans" font-size="11.29" font-weight="normal" fill="#d8d8d8" textLength="18.7" lengthAdjust="spacingAndGlyphs"  stroke="#d8d8d8" stroke-width="0.1" stroke-linejoin="round">Nov</text>
<text x="1299" y="724.2" font-family="Liberation Sans" font-size="11.29" font-weight="normal" fill="#d8d8d8" textLength="18" lengthAdjust="spacingAndGlyphs"  stroke="#d8d8d8" stroke-width="0.1" stroke-linejoin="round">Dec</text>
<text x="1429" y="724.2" font-family="Liberation Sans" font-size="11.29" font-weight="normal" fill="#d8d8d8" textLength="18" lengthAdjust="spacingAndGlyphs"  stroke="#d8d8d8" stroke-width="0.1" stroke-linejoin="round">Jan</text>
<text x="1543" y="724.2" font-family="Liberation Sans" font-size="11.29" font-weight="normal" fill="#d8d8d8" textLength="18" lengthAdjust="spacingAndGlyphs"  stroke="#d8d8d8" stroke-width="0.1" stroke-linejoin="round">Feb</text>
<text x="673.7" y="737.6" font-family="Liberation Sans" font-size="11.29" font-weight="normal" fill="#d8d8d8" textLength="23.8" lengthAdjust="spacingAndGlyphs"  stroke="#d8d8d8" stroke-width="0.1" stroke-linejoin="round">2025</text>
<text x="1462.5" y="737.6" font-family="Liberation Sans" font-size="11.29" font-weight="normal" fill="#d8d8d8" textLength="23.0" lengthAdjust="spacingAndGlyphs"  stroke="#d8d8d8" stroke-width="0.1" stroke-linejoin="round">2026</text>
<g stroke="#4c4c4c" stroke-width="1" fill="none"><path d="M8.5 150V188M8.5 162H11M8.5 175H11M8.5 188H11"/><rect x="6" y="144.5" width="5" height="5" rx="1.2"/><path d="M7.3 147H9.7"/></g>
<rect x="13.5" y="142.5" width="9.7" height="9.9" fill="#f4f4f4" />
<text x="27.5" y="152.4" font-family="Liberation Sans" font-size="11.43" font-weight="normal" fill="#dcdcdc" textLength="51.5" lengthAdjust="spacingAndGlyphs"  stroke="#dcdcdc" stroke-width="0" stroke-linejoin="round">Last Price</text>
<text x="121.5" y="152.4" font-family="Liberation Sans" font-size="11.43" font-weight="normal" fill="#dcdcdc" textLength="20.5" lengthAdjust="spacingAndGlyphs"  stroke="#dcdcdc" stroke-width="0" stroke-linejoin="round">2.36</text>
<text x="27.5" y="165.60000000000002" font-family="Liberation Sans" font-size="11.43" font-weight="normal" fill="#dcdcdc" textLength="87.0" lengthAdjust="spacingAndGlyphs"  stroke="#dcdcdc" stroke-width="0" stroke-linejoin="round">High on 04/06/25</text>
<text x="121.5" y="165.60000000000002" font-family="Liberation Sans" font-size="11.43" font-weight="normal" fill="#dcdcdc" textLength="20.5" lengthAdjust="spacingAndGlyphs"  stroke="#dcdcdc" stroke-width="0" stroke-linejoin="round">2.60</text>
<text x="27.5" y="179.0" font-family="Liberation Sans" font-size="11.43" font-weight="normal" fill="#dcdcdc" textLength="38.5" lengthAdjust="spacingAndGlyphs"  stroke="#dcdcdc" stroke-width="0" stroke-linejoin="round">Average</text>
<text x="121.5" y="179.0" font-family="Liberation Sans" font-size="11.43" font-weight="normal" fill="#dcdcdc" textLength="20.5" lengthAdjust="spacingAndGlyphs"  stroke="#dcdcdc" stroke-width="0" stroke-linejoin="round">2.16</text>
<text x="27.5" y="192.20000000000002" font-family="Liberation Sans" font-size="11.43" font-weight="normal" fill="#dcdcdc" textLength="85.5" lengthAdjust="spacingAndGlyphs"  stroke="#dcdcdc" stroke-width="0" stroke-linejoin="round">Low on 02/23/25</text>
<text x="121.5" y="192.20000000000002" font-family="Liberation Sans" font-size="11.43" font-weight="normal" fill="#dcdcdc" textLength="20.5" lengthAdjust="spacingAndGlyphs"  stroke="#dcdcdc" stroke-width="0" stroke-linejoin="round">1.86</text>
<g stroke="#7e7e7e" stroke-width="1.1" fill="none"><path d="M16 156.6H22M19 156.6V166"/><path d="M13.7 175.2H23.6"/><path d="M16 192.4H22M19 183V192.4"/></g><circle cx="18.6" cy="175.2" r="1.5" fill="#a0a0a0"/>
<rect x="0" y="0" width="1603" height="7" fill="#262626" />
<rect x="0" y="0" width="2" height="746" fill="#262626" />
<rect x="1602" y="0" width="1" height="746" fill="#262626" />
<rect x="0" y="744" width="1603" height="2" fill="#262626" /></svg>
</body></html>
